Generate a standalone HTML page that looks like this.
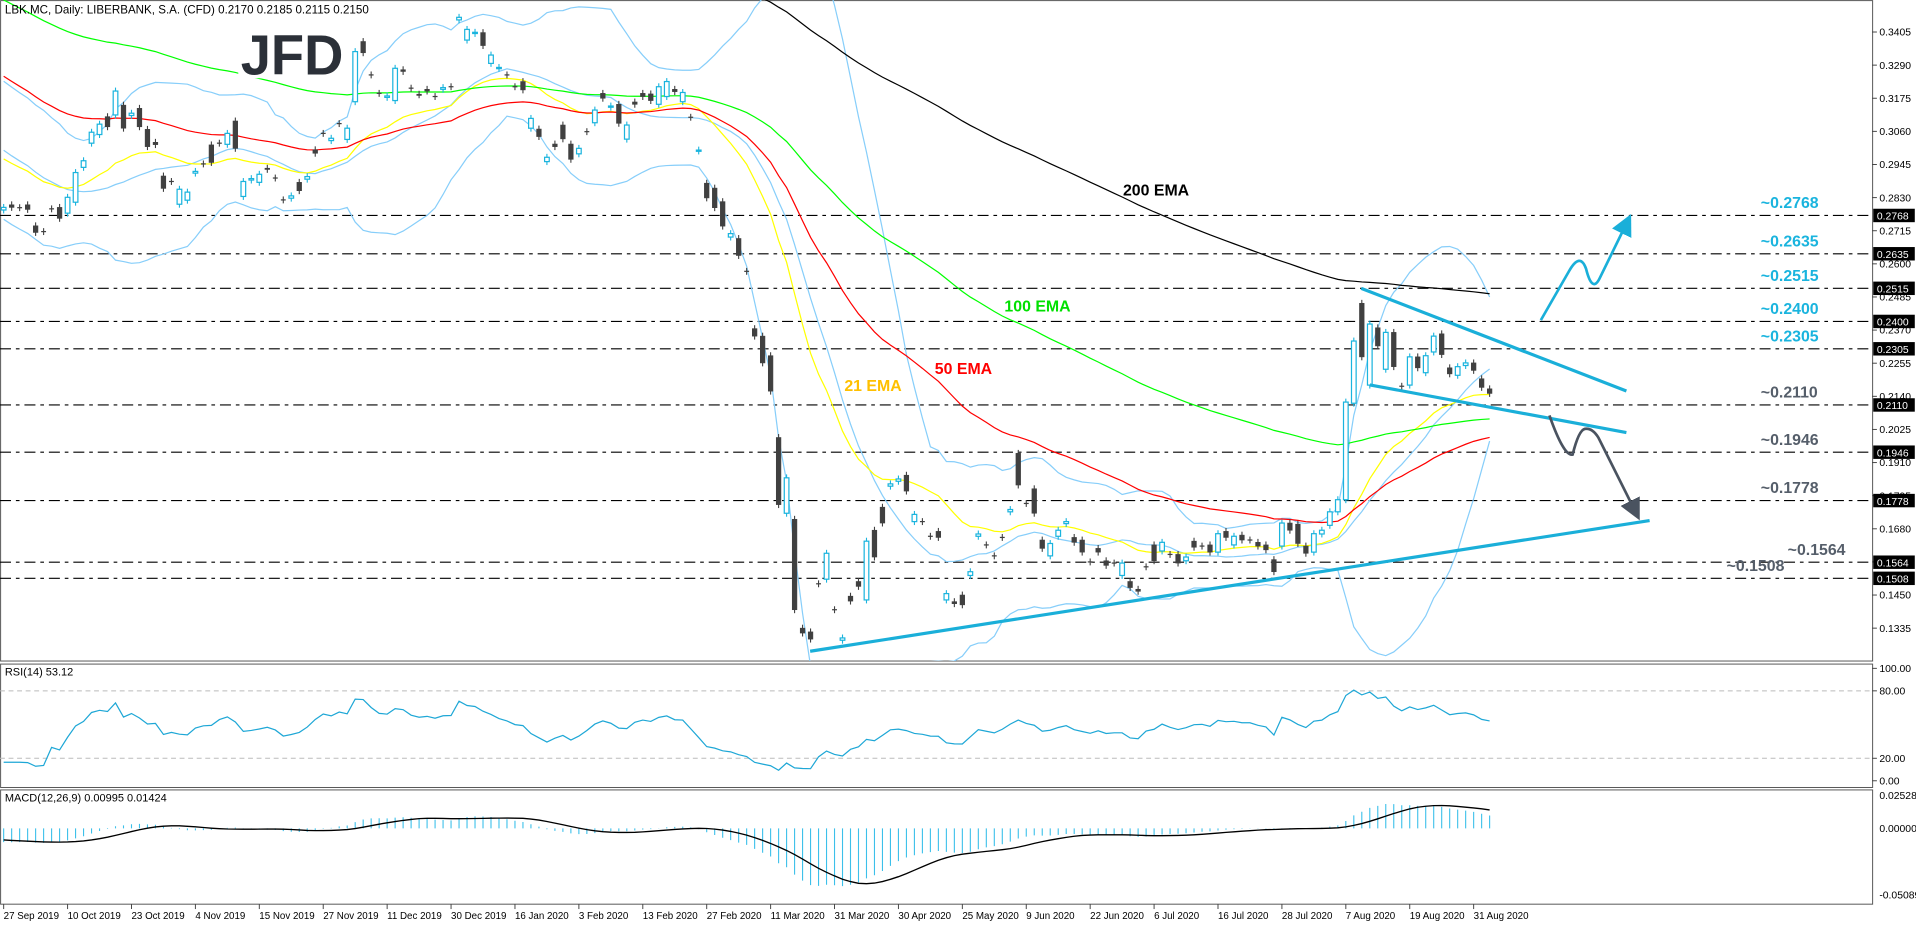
<!DOCTYPE html>
<html><head><meta charset="utf-8"><style>
html,body{margin:0;padding:0;background:#fff;overflow:hidden}
svg{display:block;font-family:"Liberation Sans",sans-serif}
</style></head><body>
<svg id="chart" width="1916" height="928" viewBox="0 0 1568 759.5" preserveAspectRatio="none" xmlns="http://www.w3.org/2000/svg">
<defs><clipPath id="mainClip"><rect x="0" y="0" width="1532" height="541"/></clipPath>
<clipPath id="rsiClip"><rect x="0" y="544" width="1532" height="101"/></clipPath>
<clipPath id="macdClip"><rect x="0" y="647" width="1532" height="93"/></clipPath>
<marker id="arrC" markerWidth="8" markerHeight="8" refX="4" refY="4" orient="auto"><path d="M0,0 L8,4 L0,8 z" fill="#1aafd9"/></marker>
<marker id="arrG" markerWidth="8" markerHeight="8" refX="4" refY="4" orient="auto"><path d="M0,0 L8,4 L0,8 z" fill="#4a5360"/></marker>
</defs>
<rect x="0" y="0" width="1568" height="759.5" fill="#fff"/>
<g fill="none" stroke="#555" stroke-width="0.8">
<rect x="0.5" y="0.5" width="1532" height="540.5"/>
<rect x="0.5" y="543.5" width="1532" height="101"/>
<rect x="0.5" y="646.5" width="1532" height="93.5"/>
</g>
<g id="levels"></g>
<g id="main" clip-path="url(#mainClip)"></g>
<g><rect x="195" y="20" width="92" height="44" fill="#fff"/><text x="197" y="61" font-size="46" font-weight="bold" fill="#2b3038" textLength="84" lengthAdjust="spacingAndGlyphs">JFD</text></g>
<g id="overlay"></g>
<g id="rsi" clip-path="url(#rsiClip)"></g>
<g id="macd" clip-path="url(#macdClip)"></g>
<g id="axes"></g>
<text x="4" y="11" font-size="9.5" fill="#000">LBK.MC, Daily:  LIBERBANK, S.A. (CFD)  0.2170 0.2185 0.2115 0.2150</text>
<text x="4" y="553" font-size="9" fill="#000">RSI(14) 53.12</text>
<text x="4" y="656" font-size="9" fill="#000">MACD(12,26,9) 0.00995 0.01424</text>
<text x="691" y="320" font-size="13" font-weight="bold" fill="#ffc000">21 EMA</text>
<text x="765" y="306" font-size="13" font-weight="bold" fill="#ff0000">50 EMA</text>
<text x="822" y="255" font-size="13" font-weight="bold" fill="#00e000">100 EMA</text>
<text x="919" y="160" font-size="13" font-weight="bold" fill="#000">200 EMA</text>
<g stroke="#1aafd9" stroke-width="2.6" fill="none">
<line x1="1114" y1="236" x2="1331" y2="320"/>
<line x1="1121" y1="315" x2="1331" y2="354"/>
<line x1="663" y1="533" x2="1350" y2="426"/>
</g>
<path d="M1261,262 L1284,222 Q1293,206 1298,220 Q1303,240 1309,228 L1331,183" stroke="#1aafd9" stroke-width="2.2" fill="none" marker-end="url(#arrC)"/>
<path d="M1268,340 Q1280,374 1287,372 Q1292,352 1297,351 Q1303,350 1308,358 L1338,418" stroke="#4a5360" stroke-width="2.2" fill="none" marker-end="url(#arrG)"/>
</svg>
<script>
const prior=[.3180,.3150,.3120,.3160,.3100,.3080,.3050,.3070,.3020,.3000,.3030,.2980,.2950,.2960,.2900,.2870,.2850,.2820,.2800];
const opens=[.2787,.2805,.2795,.2805,.2732,.2712,.2791,.2796,.2776,.2814,
.2935,.3019,.3049,.3111,.3117,.3151,.3115,.3140,.3067,.3022,
.2905,.2886,.2807,.2821,.2915,.2947,.3013,.3019,.3015,.3096,
.2834,.2891,.2883,.2932,.2898,.2822,.2828,.2883,.2894,.2996,
.3053,.3028,.3087,.3032,.3163,.3372,.3256,.3192,.3178,.3167,
.3274,.3210,.3189,.3206,.3181,.3206,.3215,.3447,.3377,.3400,
.3403,.3296,.3279,.3256,.3215,.3233,.3071,.3068,.2955,.3016,
.3082,.3016,.2982,.3059,.3090,.3192,.3144,.3154,.3033,.3162,
.3192,.3190,.3154,.3181,.3206,.3163,.3109,.2992,.2880,.2863,
.2816,.2693,.2688,.2574,.2375,.2349,.2281,.1997,.1734,.1713,
.1335,.1322,.1489,.1505,.1399,.1293,.1446,.1497,.1433,.1675,
.1755,.1828,.1845,.1866,.1705,.1705,.1654,.1671,.1433,.1427,
.1450,.1518,.1654,.1624,.1586,.1650,.1739,.1942,.1768,.1819,
.1641,.1586,.1654,.1698,.1650,.1641,.1565,.1612,.1569,.1561,
.1518,.1497,.1470,.1548,.1624,.1603,.1591,.1591,.1569,.1637,
.1620,.1624,.1599,.1671,.1624,.1658,.1641,.1633,.1624,.1573,
.1620,.1700,.1696,.1620,.1599,.1662,.1692,.1739,.1781,.2116,
.2463,.2179,.2378,.2234,.2362,.2175,.2179,.2277,.2222,.2294,
.2357,.2239,.2213,.2247,.2256,.2201,.2166];
const closes=[.2796,.2796,.2795,.2789,.2709,.2712,.2791,.2758,.2831,.2917,
.2958,.3057,.3085,.3076,.3200,.3071,.3123,.3076,.3007,.3014,
.2862,.2886,.2859,.2849,.2921,.2947,.2952,.3019,.3053,.3001,
.2886,.2896,.2911,.2928,.2898,.2822,.2836,.2854,.2903,.2984,
.3053,.3036,.3087,.3071,.3337,.3333,.3256,.3192,.3183,.3279,
.3268,.3210,.3187,.3200,.3181,.3212,.3215,.3456,.3414,.3404,
.3358,.3325,.3282,.3256,.3215,.3204,.3105,.3042,.2970,.3007,
.3034,.2963,.3001,.3059,.3134,.3175,.3148,.3088,.3082,.3154,
.3181,.3167,.3215,.3233,.3198,.3195,.3109,.2995,.2829,.2795,
.2731,.2705,.2629,.2574,.2349,.2256,.2158,.1764,.1857,.1399,
.1318,.1297,.1489,.1595,.1399,.1301,.1429,.1480,.1637,.1582,
.1700,.1836,.1853,.1811,.1730,.1705,.1654,.1650,.1455,.1420,
.1416,.1531,.1662,.1624,.1586,.1650,.1747,.1832,.1768,.1734,
.1612,.1629,.1675,.1705,.1633,.1599,.1565,.1599,.1553,.1561,
.1561,.1476,.1463,.1548,.1569,.1633,.1591,.1561,.1582,.1616,
.1620,.1599,.1663,.1650,.1654,.1641,.1641,.1620,.1607,.1531,
.1700,.1675,.1629,.1595,.1663,.1675,.1739,.1781,.2120,.2332,
.2277,.2391,.2315,.2362,.2243,.2175,.2277,.2239,.2281,.2349,
.2285,.2218,.2243,.2256,.2230,.2171,.2150];
const emaPeriods=[21,50,100,200];
const emaSeeds=[.315,.36,.378,.46];
const emaColors=['#ffff00','#ff0000','#00ff00','#000000'];
const levelValues=[0.2768,0.2635,0.2515,0.2400,0.2305,0.2110,0.1946,0.1778,0.1564,0.1508];
const levelTexts=['~0.2768','~0.2635','~0.2515','~0.2400','~0.2305','~0.2110','~0.1946','~0.1778','~0.1564','~0.1508'];
const priceTicks=[0.3405,0.3290,0.3175,0.3060,0.2945,0.2830,0.2715,0.2600,0.2485,0.2370,0.2255,0.2140,0.2025,0.1910,0.1795,0.1680,0.1565,0.1450,0.1335];
const dateIdx=[0,8,16,24,32,40,48,56,64,72,80,88,96,104,112,120,128,136,144,152,160,168,176,184];
const dateText=['27 Sep 2019','10 Oct 2019','23 Oct 2019','4 Nov 2019','15 Nov 2019','27 Nov 2019','11 Dec 2019','30 Dec 2019','16 Jan 2020','3 Feb 2020','13 Feb 2020','27 Feb 2020','11 Mar 2020','31 Mar 2020','30 Apr 2020','25 May 2020','9 Jun 2020','22 Jun 2020','6 Jul 2020','16 Jul 2020','28 Jul 2020','7 Aug 2020','19 Aug 2020','31 Aug 2020'];
const rsiTicks=[100,80,20,0];
const rsiTickText=['100.00','80.00','20.00','0.00'];
const macdTicks=[0.02528,0,-0.05089];
const macdTickText=['0.02528','0.00000','-0.05089'];

const NS='http://www.w3.org/2000/svg';
const X=i=>3+i*6.538;
const Y=p=>26.2+(0.3405-p)*2357;
const RY=v=>639-v*0.92;
const MY=v=>678-v*1068;
function mk(tag,attrs,parent){const e=document.createElementNS(NS,tag);for(const k in attrs)e.setAttribute(k,attrs[k]);parent.appendChild(e);return e;}
const main=document.getElementById('main'),lv=document.getElementById('levels'),axes=document.getElementById('axes'),ov=document.getElementById('overlay');
const P=prior.length;const all=prior.concat(closes);

levelValues.forEach((v,k)=>{
 const l=mk('line',{x1:0,x2:1532,y1:Y(v),y2:Y(v),stroke:'#000','stroke-width':0.9,'stroke-dasharray':'9,4,3,4'},lv);
 
 
 const cyan=k<5;
 const tx=k===8?1463:(k===9?1413:1441);
 const t=mk('text',{x:tx,y:Y(v)-6,'font-size':13,'font-weight':'bold',fill:cyan?'#1ab4de':'#555e6a'},ov);
 t.textContent=levelTexts[k];
 
 
});

const bbU=[],bbM=[],bbL=[];
for(let j=19;j<all.length;j++){let s=0;for(let k=j-19;k<=j;k++)s+=all[k];const m=s/20;let q=0;for(let k=j-19;k<=j;k++)q+=(all[k]-m)**2;const sd=Math.sqrt(q/20);
 if(j>=P-1){bbU.push([j-P,m+2*sd]);bbM.push([j-P,m]);bbL.push([j-P,m-2*sd]);}}
[[bbU,'bollinger-upper'],[bbM,'bollinger-middle'],[bbL,'bollinger-lower']].forEach(([arr,n])=>{
 const pl=mk('polyline',{points:arr.map(a=>X(a[0])+','+Y(a[1])).join(' '),fill:'none',stroke:'#87cefa','stroke-width':1},main);
 
 
});
emaPeriods.forEach((n,k)=>{const a=2/(n+1);let e=emaSeeds[k];const pts=[];
 all.forEach((v,j)=>{e=v*a+e*(1-a);if(j>=P)pts.push(X(j-P)+','+Y(e));});
 const pl=mk('polyline',{points:pts.join(' '),fill:'none',stroke:emaColors[k],'stroke-width':1},main);
 
 
});
closes.forEach((c,i)=>{const o=opens[i];const x=X(i);const up=c>o,eq=Math.abs(c-o)<0.00005;
 const g=mk('g',{},main);
 
 
 const hi=Math.max(o,c)+0.0012,lo=Math.min(o,c)-0.0012;
 const col=up?'#1ab4de':'#404040';
 mk('line',{x1:x,x2:x,y1:Y(hi),y2:Y(lo),stroke:col,'stroke-width':0.9},g);
 if(eq){mk('line',{x1:x-2,x2:x+2,y1:Y(c),y2:Y(c),stroke:col,'stroke-width':1},g);}
 else{const t=Y(Math.max(o,c)),b=Y(Math.min(o,c));
  mk('rect',{x:x-1.9,y:t,width:3.8,height:Math.max(b-t,1),fill:up?'#fff':'#404040',stroke:col,'stroke-width':up?1:0.5},g);}
});
const rsi=[];let ag=0,al=0;
for(let j=1;j<all.length;j++){const d=all[j]-all[j-1];const g=Math.max(d,0),l=Math.max(-d,0);
 if(j<=14){ag+=g/14;al+=l/14;}else{ag=(ag*13+g)/14;al=(al*13+l)/14;}
 if(j>=P){rsi.push([j-P,al===0?100:100-100/(1+ag/al)]);}}
const rg=document.getElementById('rsi');
[80,20].forEach(v=>{const l=mk('line',{x1:0,x2:1532,y1:RY(v),y2:RY(v),stroke:'#bbb','stroke-width':0.8,'stroke-dasharray':'4,3'},rg);
 
 });
const rl=mk('polyline',{points:rsi.map(a=>X(a[0])+','+RY(a[1])).join(' '),fill:'none',stroke:'#1ea7d6','stroke-width':1},rg);


const mg=document.getElementById('macd');
let e12=.318,e26=.325;const mm=[];
all.forEach(v=>{e12=v*2/13+e12*11/13;e26=v*2/27+e26*25/27;mm.push(e12-e26);});
const sigPts=[];
for(let j=P;j<all.length;j++){let s=0;for(let k=j-8;k<=j;k++)s+=mm[k];const sig=s/9;
 const b=mk('line',{x1:X(j-P),x2:X(j-P),y1:MY(0),y2:MY(mm[j]),stroke:'#3cc0ea','stroke-width':0.9},mg);
 
 
 sigPts.push(X(j-P)+','+MY(sig));}
const sl=mk('polyline',{points:sigPts.join(' '),fill:'none',stroke:'#000','stroke-width':1.1},mg);


priceTicks.forEach(v=>{mk('line',{x1:1532,x2:1536,y1:Y(v),y2:Y(v),stroke:'#444','stroke-width':0.8},axes);
 const t=mk('text',{x:1538,y:Y(v)+3,'font-size':8.5,fill:'#000'},axes);t.textContent=v.toFixed(4);
 
 });
levelValues.forEach(v=>{mk('rect',{x:1533,y:Y(v)-5.5,width:34,height:11,fill:'#000'},axes);
 const t=mk('text',{x:1536,y:Y(v)+3.5,'font-size':8.5,fill:'#fff'},axes);t.textContent=v.toFixed(4);
 
 });
rsiTicks.forEach((v,k)=>{mk('line',{x1:1532,x2:1536,y1:RY(v),y2:RY(v),stroke:'#444','stroke-width':0.8},axes);
 const t=mk('text',{x:1538,y:RY(v)+3,'font-size':8.5,fill:'#000'},axes);t.textContent=rsiTickText[k];
 
 });
macdTicks.forEach((v,k)=>{const t=mk('text',{x:1538,y:MY(v)+3,'font-size':8.5,fill:'#000'},axes);t.textContent=macdTickText[k];
 
 });
dateIdx.forEach((i,k)=>{const x=X(i);mk('line',{x1:x,x2:x,y1:740,y2:744,stroke:'#444','stroke-width':0.8},axes);
 const t=mk('text',{x:x,y:752,'font-size':8,fill:'#000'},axes);t.textContent=dateText[k];
 
 });
</script>
</body></html>
